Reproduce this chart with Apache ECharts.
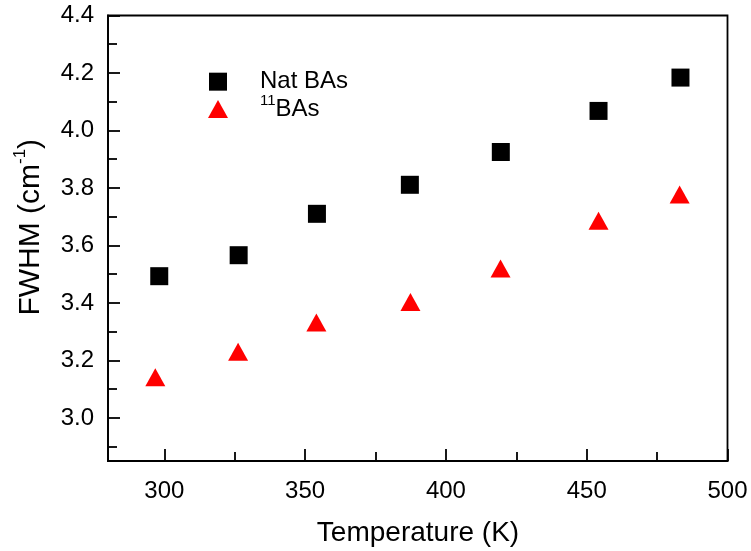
<html>
<head>
    <script src="https://cdn.jsdelivr.net/npm/echarts@6/dist/echarts.min.js"></script>
    <style>
        body { margin: 0 }
        #chart { width: 751px; height: 551px; }
    </style>
</head>
<body>
    <div id="chart"></div>
    <script>
        // data
        const natTemps = [298.2, 326.4, 354.2, 387.2, 419.5, 454.2, 483.3];
        const natFwhm = [3.493, 3.566, 3.710, 3.811, 3.925, 4.068, 4.184];
        const b11Temps = [296.8, 326.2, 354.0, 387.4, 419.4, 454.2, 483.0];
        const b11Fwhm = [3.141, 3.230, 3.332, 3.403, 3.520, 3.686, 3.777];

        const xMajor = [300, 350, 400, 450, 500];
        const xMinor = [325, 375, 425, 475];
        const yMajor = [3.0, 3.2, 3.4, 3.6, 3.8, 4.0, 4.2, 4.4];
        const yMinor = [2.9, 3.1, 3.3, 3.5, 3.7, 3.9, 4.1, 4.3];

        const font = 'Liberation Sans';
        const lineStyle = { color: '#000', width: 1.8 };
        const squareIcon = 'path://M0,0H18V18H0Z';
        const triangleIcon = 'path://M10,0L20,18H0Z';

        const chart = echarts.init(document.getElementById('chart'));

        const zip = (xs, ys) => xs.map((x, i) => [x, ys[i]]);

        chart.setOption({
            animation: false,
            backgroundColor: '#fff',
            // x axis title, placed by hand under the plot
            title: {
                text: 'Temperature (K)',
                left: 418, top: 509, textAlign: 'center', padding: 0,
                textStyle: { fontFamily: font, fontSize: 28, fontWeight: 'normal', color: '#000' }
            },
            grid: {
                left: 108, right: 23.5, top: 15.5, bottom: 90,
                outerBoundsMode: 'none', containLabel: false,
                show: true, borderColor: '#000', borderWidth: 1.8
            },
            legend: {
                orient: 'vertical',
                left: 203, top: 56,
                padding: 5,
                itemWidth: 74, itemHeight: 18, itemGap: -14,
                symbolKeepAspect: true,
                textStyle: {
                    fontFamily: font, fontSize: 24, color: '#000',
                    rich: {
                        sup: { fontFamily: font, fontSize: 15, color: '#000', verticalAlign: 'top', padding: [0, 0, 10, 0] }
                    }
                },
                formatter: (name) => name === '11BAs' ? '{sup|11}BAs' : name,
                data: [
                    { name: 'Nat BAs', icon: squareIcon },
                    { name: '11BAs', icon: triangleIcon }
                ]
            },
            xAxis: [
                {
                    type: 'value', min: 280, max: 500,
                    axisLine: { lineStyle: lineStyle },
                    axisTick: { inside: true, length: 12, lineStyle: lineStyle, customValues: xMajor },
                    axisLabel: { fontFamily: font, fontSize: 24, color: '#000', margin: 10, customValues: xMajor },
                    splitLine: { show: false }
                },
                {
                    type: 'value', min: 280, max: 500, position: 'bottom',
                    axisLine: { show: false },
                    axisTick: { inside: true, length: 9, lineStyle: lineStyle, customValues: xMinor },
                    axisLabel: { show: false },
                    splitLine: { show: false }
                }
            ],
            yAxis: [
                {
                    type: 'value', min: 2.85, max: 4.4,
                    name: 'FWHM (cm{sup|-1})', nameLocation: 'middle', nameGap: 51,
                    nameMoveOverlap: false,
                    nameTextStyle: {
                        fontFamily: font, fontSize: 30, color: '#000',
                        padding: [0, 0, 0, 22],
                        rich: {
                            sup: { fontFamily: font, fontSize: 17, color: '#000', verticalAlign: 'top', padding: [0, 0, 12, 0] }
                        }
                    },
                    axisLine: { lineStyle: lineStyle },
                    axisTick: { inside: true, length: 12, lineStyle: lineStyle, customValues: yMajor },
                    axisLabel: {
                        fontFamily: font, fontSize: 24, color: '#000', margin: 14,
                        customValues: yMajor, formatter: (v) => v.toFixed(1)
                    },
                    splitLine: { show: false }
                },
                {
                    type: 'value', min: 2.85, max: 4.4, position: 'left',
                    axisLine: { show: false },
                    axisTick: { inside: true, length: 9, lineStyle: lineStyle, customValues: yMinor },
                    axisLabel: { show: false },
                    splitLine: { show: false }
                }
            ],
            series: [
                {
                    name: 'Nat BAs', type: 'scatter',
                    symbol: 'rect', symbolSize: 18,
                    itemStyle: { color: '#000', opacity: 1 },
                    data: zip(natTemps, natFwhm)
                },
                {
                    name: '11BAs', type: 'scatter',
                    symbol: 'triangle', symbolSize: [20, 18],
                    itemStyle: { color: '#ff0000', opacity: 1 },
                    data: zip(b11Temps, b11Fwhm)
                }
            ]
        });
    </script>
</body>
</html>
